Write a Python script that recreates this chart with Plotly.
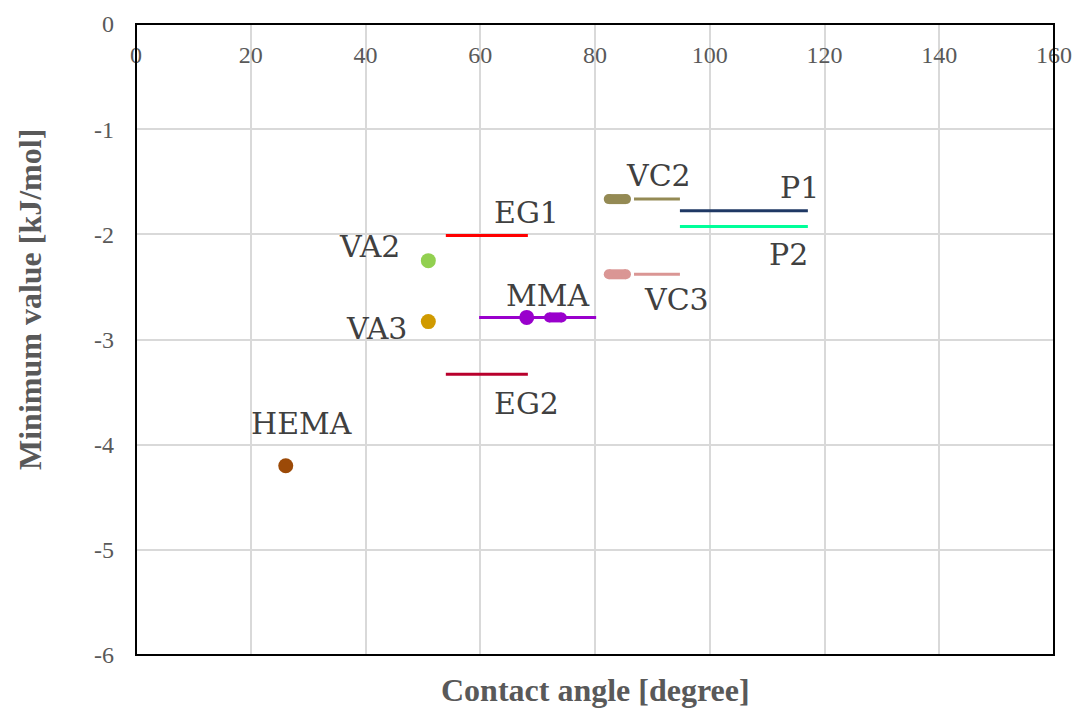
import plotly.graph_objects as go

# ---- data ----
point_names = ["HEMA", "VA2", "VA3"]
point_x = [26.1, 50.95, 50.95]
point_y = [-4.20, -2.25, -2.83]

range_names = ["EG1", "EG2", "MMA", "VC2", "VC3", "P1", "P2"]
range_x0 = [54.0, 54.0, 59.8, 86.8, 86.8, 94.8, 94.8]
range_x1 = [68.3, 68.3, 80.2, 94.8, 94.8, 117.1, 117.1]
range_y = [-2.01, -3.33, -2.79, -1.665, -2.38, -1.775, -1.925]

pill_names = ["MMA", "VC2", "VC3"]
pill_x0 = [72.0, 82.4, 82.4]
pill_x1 = [74.2, 85.4, 85.4]
pill_y = [-2.79, -1.665, -2.38]

mma_dot_x = [68.1]
mma_dot_y = [-2.79]

x_ticks = [0, 20, 40, 60, 80, 100, 120, 140, 160]
y_ticks = [0, -1, -2, -3, -4, -5, -6]

# ---- styles ----
colors = {
    "HEMA": "#9C4A08", "VA2": "#92D050", "VA3": "#D09A00",
    "EG1": "#FF0000", "EG2": "#B8002C", "MMA": "#9900CC",
    "VC2": "#948A54", "VC3": "#DA9694", "P1": "#1F3864", "P2": "#00FF99",
}
label_pos = {
    "HEMA": (28.93, -3.803), "VA2": (40.61, -2.111), "VA3": (41.83, -2.900),
    "EG1": (68.06, -1.797), "EG2": (68.06, -3.608), "MMA": (71.72, -2.586),
    "VC2": (90.98, -1.445), "VC3": (94.29, -2.624), "P1": (115.64, -1.550),
    "P2": (113.73, -2.196),
}

fig = go.Figure()

for n, a, b, y in zip(range_names, range_x0, range_x1, range_y):
    fig.add_trace(go.Scatter(x=[a, b], y=[y, y], mode="lines",
                             line=dict(color=colors[n], width=3),
                             showlegend=False, hoverinfo="skip"))

for n, a, b, y in zip(pill_names, pill_x0, pill_x1, pill_y):
    fig.add_trace(go.Scatter(x=[a, b], y=[y, y], mode="lines+markers",
                             line=dict(color=colors[n], width=10),
                             marker=dict(color=colors[n], size=10, line=dict(width=0)),
                             showlegend=False, hoverinfo="skip"))

fig.add_trace(go.Scatter(x=mma_dot_x, y=mma_dot_y, mode="markers",
                         marker=dict(color=colors["MMA"], size=15, line=dict(width=0)),
                         showlegend=False))

for n, x, y in zip(point_names, point_x, point_y):
    fig.add_trace(go.Scatter(x=[x], y=[y], mode="markers",
                             marker=dict(color=colors[n], size=15, line=dict(width=0)),
                             showlegend=False))

for n, (x, y) in label_pos.items():
    fig.add_annotation(x=x, y=y, xref="x", yref="y", text=n, showarrow=False,
                       xanchor="center", yanchor="middle",
                       font=dict(family="DejaVu Serif", size=30, color="#404040"))

fig.add_annotation(x=0.5, y=0.0, xref="paper", yref="paper", yshift=-35,
                   text="<b>Contact angle [degree]</b>", showarrow=False,
                   xanchor="center", yanchor="middle",
                   font=dict(family="Liberation Serif", size=32, color="#595959"))
fig.add_annotation(x=0, y=(655 - 300) / (655 - 24), xref="paper", yref="paper", xshift=-106,
                   text="<b>Minimum value [kJ/mol]</b>", showarrow=False, textangle=-90,
                   xanchor="center", yanchor="middle",
                   font=dict(family="Liberation Serif", size=32, color="#595959"))

fig.add_shape(type="rect", xref="paper", yref="paper", x0=0, y0=0, x1=1, y1=1,
              line=dict(color="black", width=2), layer="above")

fig.update_layout(
    width=1075, height=708,
    margin=dict(l=136, r=21, t=24, b=53, autoexpand=False),
    paper_bgcolor="white", plot_bgcolor="white",
    xaxis=dict(range=[0, 160], tickvals=x_ticks, ticktext=[str(v) for v in x_ticks],
               anchor="free", position=1, side="bottom", ticks="", ticklabelstandoff=14,
               ticklabeloverflow="allow",
               showgrid=True, gridcolor="#D9D9D9", gridwidth=1.5,
               showline=False, zeroline=False, automargin=False,
               tickfont=dict(family="Liberation Serif", size=24, color="#595959")),
    yaxis=dict(range=[-6, 0], tickvals=y_ticks, ticktext=[str(v) for v in y_ticks],
               ticks="", ticklabelstandoff=21, ticklabeloverflow="allow",
               showgrid=True, gridcolor="#D9D9D9", gridwidth=1.5,
               showline=False, zeroline=False, automargin=False,
               tickfont=dict(family="Liberation Serif", size=24, color="#595959")),
)

fig.write_html("out.html", config={"displayModeBar": False},
               post_script="document.body.style.margin='0';document.body.style.overflow='hidden';")
